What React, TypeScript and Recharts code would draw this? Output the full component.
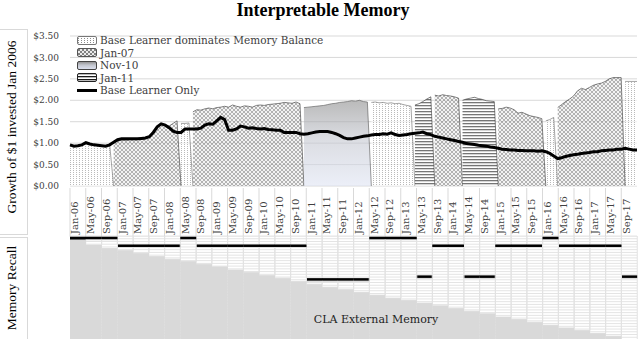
import { ComposedChart, Area, Line, XAxis, YAxis, CartesianGrid, BarChart, Bar } from "recharts";

// column labels of the lower table (one per 4 months)
const monthLabels = [
  "Jan-06", "May-06", "Sep-06", "Jan-07", "May-07", "Sep-07", "Jan-08", "May-08", "Sep-08",
  "Jan-09", "May-09", "Sep-09", "Jan-10", "May-10", "Sep-10", "Jan-11", "May-11", "Sep-11",
  "Jan-12", "May-12", "Sep-12", "Jan-13", "May-13", "Sep-13", "Jan-14", "May-14", "Sep-14",
  "Jan-15", "May-15", "Sep-15", "Jan-16", "May-16", "Sep-16", "Jan-17", "May-17", "Sep-17",
];

// monthly value of the memory balance portfolio, Jan-06 .. Dec-17
const balance = [
  0.96, 0.94, 0.95, 0.97, 1.0, 0.98, 0.97, 0.96, 0.95, 0.95, 0.97,
  1.0, 1.05, 1.07, 1.07, 1.08, 1.08, 1.08, 1.09, 1.1, 1.15, 1.28, 1.37, 1.45, 1.42, 1.4, 1.46, 1.52,
  1.46, 1.46, 1.47,
  1.73, 1.78, 1.77, 1.8, 1.82, 1.8, 1.83, 1.84, 1.86, 1.84, 1.89, 1.86, 1.84, 1.87, 1.86, 1.84, 1.88, 1.89,
  1.88, 1.9, 1.91, 1.92, 1.93, 1.95, 1.94, 1.93, 1.96, 1.92,
  1.83, 1.84, 1.85, 1.86, 1.87, 1.88, 1.9, 1.92, 1.93, 1.95, 1.96, 1.97, 1.99, 1.98, 2.0, 1.97, 1.96,
  1.95, 1.96, 1.94, 1.95, 1.93, 1.94, 1.92, 1.93, 1.9, 1.88, 1.86,
  1.89, 1.92, 1.97, 2.03, 2.08,
  2.12, 2.1, 2.13, 2.11, 2.1, 2.08, 2.05,
  2.0, 2.03, 2.05, 2.07, 2.04, 2.02, 1.99, 1.98, 1.97,
  1.8, 1.81, 1.84, 1.82, 1.78, 1.7, 1.72, 1.68, 1.64, 1.62, 1.6, 1.57,
  1.52, 1.55, 1.6,
  1.83, 1.9, 1.97, 2.03, 2.1, 2.22, 2.28, 2.25, 2.3, 2.35, 2.38, 2.4, 2.44, 2.5, 2.53, 2.53, 2.53,
  2.44, 2.44, 2.44, 2.44,
];

// monthly value of the base learner alone
const baseLearner = [
  0.96, 0.93, 0.94, 0.96, 1.01, 0.98, 0.96, 0.95, 0.94, 0.93, 0.96,
  1.02, 1.08, 1.1, 1.1, 1.1, 1.1, 1.1, 1.11, 1.12, 1.15,
  1.25, 1.38, 1.45, 1.42, 1.36, 1.28, 1.25, 1.25, 1.33, 1.33,
  1.33, 1.33, 1.35, 1.42, 1.45, 1.44, 1.52, 1.6, 1.55, 1.3,
  1.3, 1.33, 1.4, 1.38, 1.35, 1.36, 1.34, 1.33, 1.34, 1.32,
  1.31, 1.3, 1.3, 1.25, 1.25, 1.25, 1.25, 1.22, 1.21, 1.22,
  1.24, 1.26, 1.27, 1.27, 1.27, 1.25, 1.22, 1.18, 1.13, 1.1,
  1.1, 1.12, 1.14, 1.16, 1.17, 1.19, 1.2, 1.2, 1.22, 1.21,
  1.24, 1.2, 1.18, 1.19, 1.2, 1.22, 1.23, 1.24, 1.26, 1.22,
  1.2, 1.16, 1.14, 1.12, 1.1, 1.08, 1.06, 1.04, 1.02, 0.99,
  0.98, 0.97, 0.95, 0.94, 0.93, 0.91, 0.9, 0.88, 0.86, 0.85,
  0.84, 0.84, 0.83, 0.83, 0.82, 0.82, 0.82, 0.81, 0.82, 0.8,
  0.76, 0.7, 0.64, 0.66, 0.69, 0.71, 0.73, 0.74, 0.76, 0.77,
  0.78, 0.8, 0.8, 0.82, 0.83, 0.84, 0.84, 0.86, 0.86, 0.88,
  0.86, 0.84, 0.84,
];

// which memory drives the portfolio, from the given month onwards
const regimeStart = [0, 11, 28, 31, 59, 76, 87, 92, 99, 108, 120, 123, 140];
const regimeMemory = ["base", "jan07", "base", "jan07", "nov10", "base", "jan11", "jan07", "jan11", "jan07", "base", "jan07", "base"];

// lower panel: memories held (rows) and the one recalled, per column
const memoryDepth = [
  1.4, 3.3, 4.5, 5.3, 6.3, 7.5, 8.5, 9.3, 10.3, 11.2, 12.4, 13.3, 14.4, 15.4, 16.6, 17.6, 18.7, 19.6,
  20.6, 21.6, 22.7, 23.5, 24.5, 25.5, 26.5, 27.5, 28.4, 29.6, 30.5, 31.5, 32.6, 33.6, 34.5, 35.6, 36.6, 37.9,
];
const recalled = [
  "base", "base", "base", "jan07", "jan07", "jan07", "jan07", "base", "jan07", "jan07", "jan07", "jan07",
  "jan07", "jan07", "jan07", "nov10", "nov10", "nov10", "nov10", "base", "base", "base", "jan11", "jan07",
  "jan07", "jan11", "jan11", "jan07", "jan07", "jan07", "base", "jan07", "jan07", "jan07", "jan07", "jan11",
];
const memoryRow: Record<string, number> = { base: 0.3, jan07: 3.1, jan11: 14.4, nov10: 15.4 };
const MARK = 1.1;
const ROWS = 38;

const SERIF = "'DejaVu Serif', serif";
const TIMES = "'Liberation Serif', serif";
const COL_W = 567 / 36;

const regimeOf = (m: number) => {
  let k = 0;
  regimeStart.forEach((s, i) => { if (s <= m) k = i; });
  return regimeMemory[k];
};

const topData = balance.map((v, m) => {
  const row: Record<string, number | null> = { m, base: null, jan07: null, nov10: null, jan11: null, line: baseLearner[m] };
  const cur = regimeOf(m);
  row[cur] = v;
  if (m > 0 && regimeOf(m - 1) !== cur) row[regimeOf(m - 1)] = 0;
  return row;
});

const bottomData = monthLabels.map((label, i) => {
  const top = memoryRow[recalled[i]];
  return {
    label,
    gap1: top,
    mark: MARK,
    gap2: Math.max(0, memoryDepth[i] - top - MARK),
    mem: ROWS - memoryDepth[i],
  };
});

const rowTicks = Array.from({ length: ROWS + 1 }, (_, i) => i);

function MonthTick(props: any) {
  const { x, y, payload } = props;
  const left = x - COL_W / 2;
  return (
    <g>
      <line x1={left} x2={left} y1={y - 48} y2={y} stroke="#d9d9d9" />
      <text
        x={x}
        y={y - 2}
        dy={0.6}
        transform={`rotate(-90 ${x} ${y - 2})`}
        textAnchor="start"
        fontSize={10}
        fontFamily={SERIF}
        fill="#404040"
      >
        {payload.value}
      </text>
    </g>
  );
}

// one faint line per memory row of the lower table
const rowLines = (p: any) => {
  const top = p?.offset?.top ?? 48;
  const h = p?.offset?.height ?? 104;
  return rowTicks.map((t) => top + (t / ROWS) * h);
};

const legendItems = [
  { name: "Base Learner dominates Memory Balance", fill: "url(#dots)", stroke: "#777" },
  { name: "Jan-07", fill: "url(#hatch)", stroke: "#555" },
  { name: "Nov-10", fill: "url(#gradNov)", stroke: "#444" },
  { name: "Jan-11", fill: "url(#stripes)", stroke: "#222" },
];

export default function App() {
  return (
    <div style={{ position: "relative", width: 640, height: 339, overflow: "hidden", background: "#fff" }}>
      <style>{"body{margin:0}"}</style>
      <svg width={0} height={0} style={{ position: "absolute" }}>
        <defs>
          <pattern id="dots" width={3} height={2} patternUnits="userSpaceOnUse">
            <rect width={3} height={2} fill="#fff" />
            <rect x={1} y={0} width={1} height={1} fill="#8c8c8c" />
          </pattern>
          <pattern id="hatch" width={4} height={4} patternUnits="userSpaceOnUse">
            <rect width={4} height={4} fill="#ebebeb" />
            <path d="M0,0 L4,4 M4,0 L0,4" stroke="#666" strokeWidth={0.8} />
          </pattern>
          <pattern id="stripes" width={4} height={3} patternUnits="userSpaceOnUse">
            <rect width={4} height={3} fill="#fff" />
            <rect width={4} height={1.3} fill="#1a1a1a" />
          </pattern>
          <linearGradient id="gradNov" x1={0} y1={0} x2={0} y2={1}>
            <stop offset="0%" stopColor="#8c8c8c" />
            <stop offset="45%" stopColor="#c3c6cf" />
            <stop offset="100%" stopColor="#dfe4f3" />
          </linearGradient>
        </defs>
      </svg>

      <div style={{ position: "absolute", left: 0, top: 0, width: 646, textAlign: "center", fontFamily: TIMES, fontWeight: "bold", fontSize: 18, lineHeight: "20px" }}>
        Interpretable Memory
      </div>

      <div style={{ position: "absolute", left: -1, top: 29, width: 27, height: 204, border: "1px solid #d9d9d9" }} />
      <div style={{ position: "absolute", left: -1, top: 237, width: 27, height: 110, border: "1px solid #d9d9d9" }} />
      <div style={{ position: "absolute", left: 12 - 100, top: 127 - 9, width: 200, height: 18, lineHeight: "18px", textAlign: "center", transform: "rotate(-90deg)", fontFamily: TIMES, fontSize: 13.5 }}>
        Growth of $1 invested Jan 2006
      </div>
      <div style={{ position: "absolute", left: 12 - 60, top: 288 - 9, width: 120, height: 18, lineHeight: "18px", textAlign: "center", transform: "rotate(-90deg)", fontFamily: TIMES, fontSize: 13.5 }}>
        Memory Recall
      </div>

      <div style={{ position: "absolute", left: 0, top: 188 }}>
        <BarChart width={640} height={152} data={bottomData} margin={{ top: 0, right: 3, bottom: 0, left: 0 }} barCategoryGap={0} barGap={0}>
          <CartesianGrid vertical={false} stroke="#e4e4e4" horizontalCoordinatesGenerator={rowLines} />
          <XAxis
            dataKey="label"
            orientation="top"
            height={48}
            interval={0}
            axisLine={false}
            tickLine={false}
            tickSize={0}
            tickMargin={0}
            tick={<MonthTick />}
          />
          <YAxis
            type="number"
            domain={[0, ROWS]}
            ticks={rowTicks}
            interval={0}
            reversed
            allowDataOverflow
            width={70}
            axisLine={false}
            tickLine={false}
            tick={false}
          />
          <Bar dataKey="gap1" stackId="s" fill="transparent" stroke="#e2e2e2" isAnimationActive={false} />
          <Bar dataKey="mark" stackId="s" fill="#000" isAnimationActive={false} />
          <Bar dataKey="gap2" stackId="s" fill="transparent" stroke="#e2e2e2" isAnimationActive={false} />
          <Bar dataKey="mem" stackId="s" fill="#d9d9d9" isAnimationActive={false} />
        </BarChart>
      </div>

      <div style={{ position: "absolute", left: 0, top: 0 }}>
        <ComposedChart width={640} height={196} data={topData} margin={{ top: 36, right: 3, bottom: 10, left: 0 }}>
          <CartesianGrid vertical={false} stroke="#d9d9d9" />
          <XAxis dataKey="m" type="number" domain={[0, 143]} hide />
          <YAxis
            type="number"
            domain={[0, 3.5]}
            ticks={[0, 0.5, 1, 1.5, 2, 2.5, 3, 3.5]}
            interval={0}
            width={70}
            axisLine={false}
            tickLine={false}
            tickMargin={5}
            tickFormatter={(v: number) => `$${v.toFixed(2)}`}
            tick={{ fill: "#404040", fontSize: 9, fontFamily: SERIF }}
          />
          <Area type="linear" dataKey="base" fill="url(#dots)" stroke="#666" strokeWidth={0.6} baseValue={0} dot={false} activeDot={false} isAnimationActive={false} />
          <Area type="linear" dataKey="jan07" fill="url(#hatch)" stroke="#333" strokeWidth={0.6} baseValue={0} dot={false} activeDot={false} isAnimationActive={false} />
          <Area type="linear" dataKey="nov10" fill="url(#gradNov)" stroke="#555" strokeWidth={0.6} baseValue={0} dot={false} activeDot={false} isAnimationActive={false} />
          <Area type="linear" dataKey="jan11" fill="url(#stripes)" stroke="#333" strokeWidth={0.6} baseValue={0} dot={false} activeDot={false} isAnimationActive={false} />
          <Line type="linear" dataKey="line" stroke="#000" strokeWidth={3} dot={false} activeDot={false} isAnimationActive={false} />
        </ComposedChart>
      </div>

      <div style={{ position: "absolute", left: 77, top: 34 }}>
        {legendItems.map((it) => (
          <div key={it.name} style={{ display: "flex", alignItems: "center", height: 12.5 }}>
            <svg width={20} height={9}>
              <rect x={0.5} y={0.5} width={19} height={8} rx={1.5} fill={it.fill} stroke={it.stroke} />
            </svg>
            <span style={{ marginLeft: 3, fontFamily: SERIF, fontSize: 10.5, color: "#404040", whiteSpace: "nowrap" }}>{it.name}</span>
          </div>
        ))}
        <div style={{ display: "flex", alignItems: "center", height: 12.5 }}>
          <svg width={20} height={9}>
            <line x1={0} x2={20} y1={4.5} y2={4.5} stroke="#000" strokeWidth={3} />
          </svg>
          <span style={{ marginLeft: 3, fontFamily: SERIF, fontSize: 10.5, color: "#404040", whiteSpace: "nowrap" }}>Base Learner Only</span>
        </div>
      </div>

      <div style={{ position: "absolute", left: 376 - 100, top: 320 - 8, width: 200, textAlign: "center", fontFamily: SERIF, fontSize: 11, lineHeight: "16px", color: "#222" }}>
        CLA External Memory
      </div>
    </div>
  );
}
